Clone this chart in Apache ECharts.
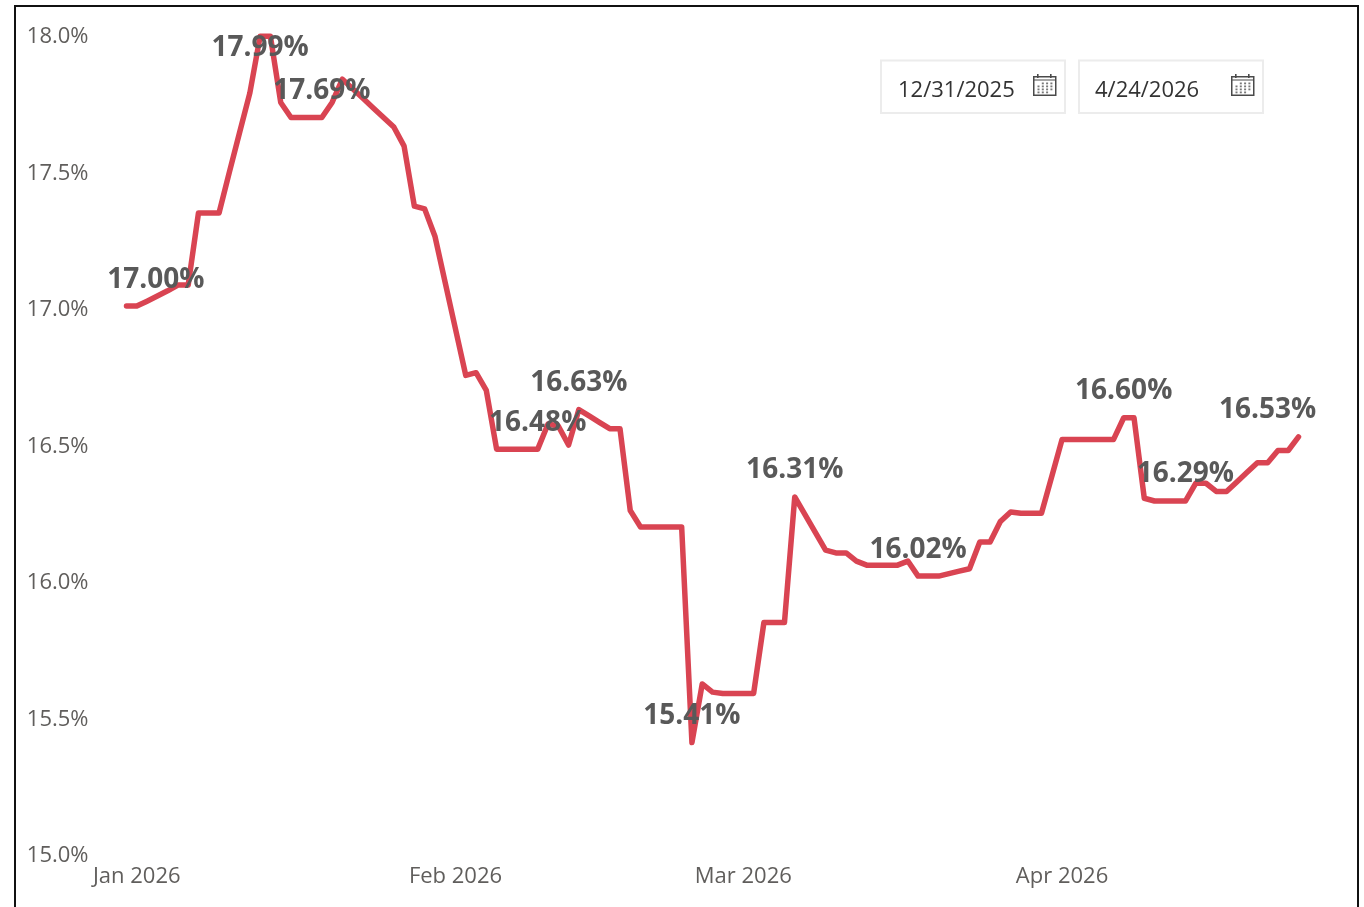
<!DOCTYPE html>
<html><head><meta charset="utf-8">
<style>html,body{margin:0;padding:0;background:#fff}#c{width:1364px;height:907px}</style>
<script src="https://cdn.jsdelivr.net/npm/echarts@6/dist/echarts.min.js"></script>
</head><body><div id="c"></div>
<script>
const dates = [
'2025-12-31',
'2026-01-01','2026-01-02','2026-01-03','2026-01-04','2026-01-05','2026-01-06','2026-01-07','2026-01-08','2026-01-09','2026-01-10',
'2026-01-11','2026-01-12','2026-01-13','2026-01-14','2026-01-15','2026-01-16','2026-01-17','2026-01-18','2026-01-19','2026-01-20',
'2026-01-21','2026-01-22','2026-01-23','2026-01-24','2026-01-25','2026-01-26','2026-01-27','2026-01-28','2026-01-29','2026-01-30','2026-01-31',
'2026-02-01','2026-02-02','2026-02-03','2026-02-04','2026-02-05','2026-02-06','2026-02-07','2026-02-08','2026-02-09','2026-02-10',
'2026-02-11','2026-02-12','2026-02-13','2026-02-14','2026-02-15','2026-02-16','2026-02-17','2026-02-18','2026-02-19','2026-02-20',
'2026-02-21','2026-02-22','2026-02-23','2026-02-24','2026-02-25','2026-02-26','2026-02-27','2026-02-28',
'2026-03-01','2026-03-02','2026-03-03','2026-03-04','2026-03-05','2026-03-06','2026-03-07','2026-03-08','2026-03-09','2026-03-10',
'2026-03-11','2026-03-12','2026-03-13','2026-03-14','2026-03-15','2026-03-16','2026-03-17','2026-03-18','2026-03-19','2026-03-20',
'2026-03-21','2026-03-22','2026-03-23','2026-03-24','2026-03-25','2026-03-26','2026-03-27','2026-03-28','2026-03-29','2026-03-30','2026-03-31',
'2026-04-01','2026-04-02','2026-04-03','2026-04-04','2026-04-05','2026-04-06','2026-04-07','2026-04-08','2026-04-09','2026-04-10',
'2026-04-11','2026-04-12','2026-04-13','2026-04-14','2026-04-15','2026-04-16','2026-04-17','2026-04-18','2026-04-19','2026-04-20',
'2026-04-21','2026-04-22','2026-04-23','2026-04-24'];

const rates = [
17.007,17.007,17.025,17.044,17.063,17.084,17.084,17.348,17.348,17.348,
17.497,17.643,17.788,17.995,17.995,17.753,17.698,17.698,17.698,17.698,
17.753,17.838,17.803,17.768,17.733,17.698,17.663,17.593,17.373,17.363,
17.263,17.093,16.923,16.753,16.763,16.698,16.483,16.483,16.483,16.483,
16.483,16.575,16.568,16.498,16.628,16.605,16.581,16.558,16.558,16.258,
16.198,16.198,16.198,16.198,16.198,15.408,15.623,15.593,15.588,15.588,
15.588,15.588,15.848,15.848,15.848,16.308,16.243,16.178,16.113,16.103,
16.103,16.073,16.058,16.058,16.058,16.058,16.073,16.018,16.018,16.018,
16.027,16.036,16.045,16.143,16.143,16.218,16.253,16.248,16.248,16.248,
16.383,16.518,16.518,16.518,16.518,16.518,16.518,16.598,16.598,16.303,
16.293,16.293,16.293,16.293,16.358,16.358,16.328,16.328,16.363,16.398,
16.433,16.433,16.478,16.478,16.528];

const tickDates  = ['2026-01-01','2026-02-01','2026-03-01','2026-04-01'];
const tickLabels = ['Jan 2026','Feb 2026','Mar 2026','Apr 2026'];

const labelDates = ['2026-01-01','2026-01-13','2026-01-19','2026-02-09','2026-02-13','2026-02-24','2026-03-06','2026-03-18','2026-04-07','2026-04-13','2026-04-24'];
const labelTexts = ['17.00%','17.99%','17.69%','16.48%','16.63%','15.41%','16.31%','16.02%','16.60%','16.29%','16.53%'];

const filterFrom = '12/31/2025';
const filterTo   = '4/24/2026';

// label placement tweaks, keyed by date (px)
const labelShift = {'2026-01-01':[19,0],'2026-01-13':[0,38],'2026-04-24':[-31,0]};

const FONT = '"Open Sans","Noto Sans",sans-serif';
const lineData = rates.map((v,i)=>{
  const k = labelDates.indexOf(dates[i]);
  if (k<0) return v;
  return {value:v,symbol:'circle',symbolSize:1,itemStyle:{color:'rgba(0,0,0,0)'},
    label:{show:true,position:'top',distance:12,offset:labelShift[dates[i]]||[0,0],
    formatter:labelTexts[k],color:'#595959',fontFamily:FONT,fontWeight:'bold',fontSize:28}};
});

function calendarIcon(x,y){
  const c='#4a4a4a', kids=[
    {type:'rect',shape:{x:x+.75,y:y+2.75,width:22,height:18.5},style:{fill:'#fff',stroke:c,lineWidth:1.5}},
    {type:'rect',shape:{x:x+.75,y:y+5.5,width:22,height:1},style:{fill:c}},
    {type:'rect',shape:{x:x+4,y:y,width:1.6,height:4},style:{fill:c}},
    {type:'rect',shape:{x:x+17,y:y,width:1.6,height:4},style:{fill:c}}
  ];
  for(let r=0;r<4;r++)for(let d=0;d<4;d++){
    if((r===0&&d===0)||(r===3&&d===3)) continue;
    kids.push({type:'rect',shape:{x:x+4.5+d*4.3,y:y+8.5+r*3,width:2,height:1.8},style:{fill:'#777'}});
  }
  return {type:'group',children:kids};
}
function dateBox(x,w,text,textX,iconX){
  return {type:'group',children:[
    {type:'rect',shape:{x:x,y:60.5,width:w,height:52.5},style:{fill:'#fff',stroke:'#ececec',lineWidth:2}},
    {type:'text',x:textX,y:90.5,style:{text:text,fill:'#333',font:'22px '+FONT,textVerticalAlign:'middle'}},
    calendarIcon(iconX,74)
  ]};
}

const chart = echarts.init(document.getElementById('c'),null,{renderer:'canvas'});
chart.setOption({
  animation:false,
  backgroundColor:'#fff',
  grid:{left:126.5,right:65.5,top:35,bottom:53,containLabel:false},
  xAxis:{type:'category',data:dates,boundaryGap:false,
    axisLine:{show:false},axisTick:{show:false},splitLine:{show:false},
    axisLabel:{interval:(i,v)=>tickDates.includes(v),formatter:v=>tickLabels[tickDates.indexOf(v)]||'',
      color:'#605e5c',fontFamily:FONT,fontSize:22,margin:12,hideOverlap:false}},
  yAxis:{type:'value',min:15,max:18,interval:0.5,
    axisLine:{show:false},axisTick:{show:false},splitLine:{show:false},
    axisLabel:{formatter:v=>v.toFixed(1)+'%',color:'#605e5c',fontFamily:FONT,fontSize:22,margin:38,align:'right',verticalAlign:'top',lineHeight:4}},
  series:[{type:'line',data:lineData,clip:false,smooth:false,
    symbol:'none',showSymbol:true,showAllSymbol:true,
    lineStyle:{color:'#d94452',width:5.5,cap:'round',join:'round'},
    emphasis:{disabled:true},z:2}],
  graphic:[
    {type:'rect',silent:true,shape:{x:15,y:6,width:1343,height:920},style:{fill:'none',stroke:'#111',lineWidth:2},z:100},
    dateBox(881,184,filterFrom,898,1033),
    dateBox(1079,184,filterTo,1095,1231)
  ]
});
</script></body></html>
